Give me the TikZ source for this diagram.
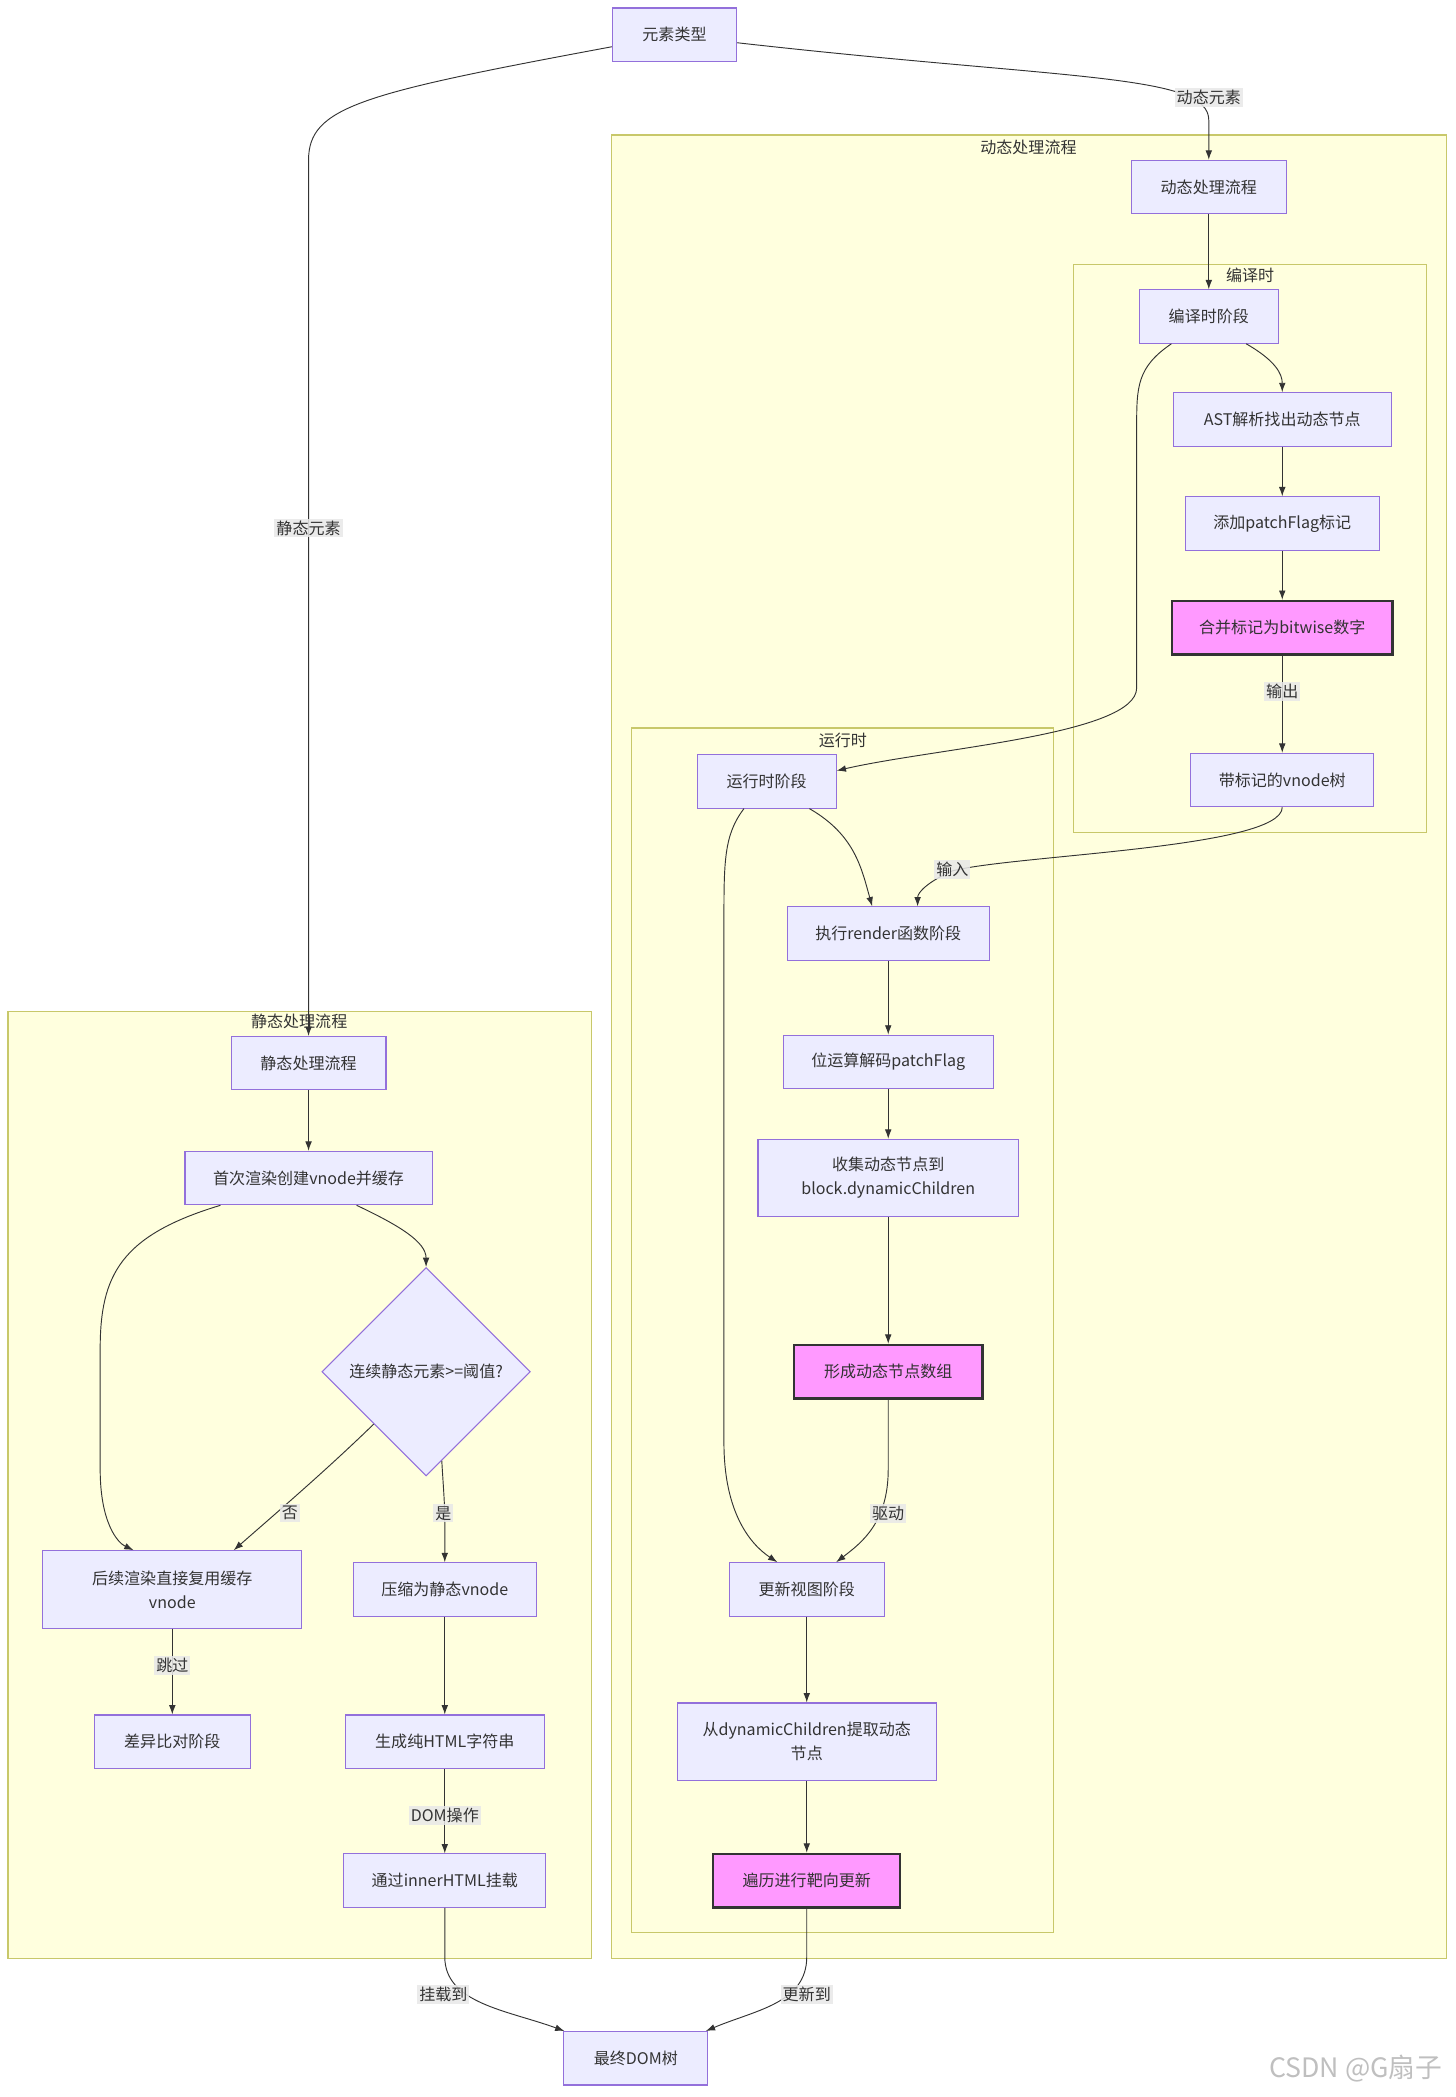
\documentclass[tikz,border=0pt]{standalone}
\usepackage{fontspec}
\setmainfont{Noto Sans CJK SC}
\usetikzlibrary{shapes.geometric,arrows.meta}
\definecolor{boxfill}{HTML}{ECECFF}
\definecolor{boxline}{HTML}{9370DB}
\definecolor{clusterfill}{HTML}{FFFFDE}
\definecolor{clusterline}{HTML}{C8C86A}
\definecolor{hotfill}{HTML}{FF99FF}
\definecolor{edgeline}{HTML}{333333}
\definecolor{lblfill}{HTML}{E8E8E8}
\begin{document}
\begin{tikzpicture}[x=1pt,y=-1pt,
  font=\fontsize{12}{18}\selectfont,text=edgeline,
  box/.style={draw=boxline,fill=boxfill,line width=0.8pt,minimum height=40pt,align=center,inner sep=0pt},
  hot/.style={draw=edgeline,fill=hotfill,line width=1.8pt,minimum height=40pt,inner sep=0pt},
  decide/.style={diamond,draw=boxline,fill=boxfill,line width=0.8pt,minimum size=156pt,inner sep=0pt,aspect=1},
  cluster/.style={draw=clusterline,fill=clusterfill,line width=0.9pt},
  ctitle/.style={inner sep=1pt},
  edge/.style={draw=edgeline,line width=0.7pt,-{Latex[length=7pt,width=5pt]}},
  lbl/.style={fill=lblfill,fill opacity=0.85,text opacity=1,inner sep=1.5pt}]
\useasboundingbox (0,0) rectangle (1090,1570);

% groups
\draw[cluster] (458,101) rectangle (1083,1466);
\node[ctitle] (tdyn) at (770,110) {动态处理流程};
\draw[cluster] (804,198) rectangle (1068,623);
\node[ctitle] (tcomp) at (936,206) {编译时};
\draw[cluster] (473,545) rectangle (789,1447);
\node[ctitle] (trun) at (631,554) {运行时};
\draw[cluster] (6,757) rectangle (443,1466);
\node[ctitle] (tstat) at (224,765) {静态处理流程};

% nodes
\node[box,minimum width=93pt] (etype) at (505,26) {元素类型};
\node[box,minimum width=116pt] (dflow) at (905,140) {动态处理流程};
\node[box,minimum width=104pt] (cstage) at (905,237) {编译时阶段};
\node[box,minimum width=163pt] (ast) at (960,314) {AST解析找出动态节点};
\node[box,minimum width=145pt] (patch) at (960,392) {添加patchFlag标记};
\node[hot,minimum width=165pt] (merge) at (960,470) {合并标记为bitwise数字};
\node[box,minimum width=137pt] (vtree) at (960,584) {带标记的vnode树};
\node[box,minimum width=104pt] (rstage) at (574,585) {运行时阶段};
\node[box,minimum width=151pt] (render) at (665,699) {执行render函数阶段};
\node[box,minimum width=157pt] (decode) at (665,795) {位运算解码patchFlag};
\node[box,minimum width=195pt,minimum height=58pt] (collect) at (665,882) {收集动态节点到\\block.dynamicChildren};
\node[hot,minimum width=141pt] (form) at (665,1027) {形成动态节点数组};
\node[box,minimum width=116pt] (update) at (604,1190) {更新视图阶段};
\node[box,minimum width=194pt,minimum height=58pt] (extract) at (604,1304) {从dynamicChildren提取动态\\节点};
\node[hot,minimum width=140pt] (patchall) at (604,1408) {遍历进行靶向更新};
\node[box,minimum width=116pt] (sflow) at (231,796) {静态处理流程};
\node[box,minimum width=185pt] (first) at (231,882) {首次渲染创建vnode并缓存};
\node[decide] (thresh) at (319,1027) {连续静态元素>=阈值?};
\node[box,minimum width=194pt,minimum height=58pt] (reuse) at (129,1190) {后续渲染直接复用缓存\\vnode};
\node[box,minimum width=137pt] (press) at (333,1190) {压缩为静态vnode};
\node[box,minimum width=117pt] (diff) at (129,1304) {差异比对阶段};
\node[box,minimum width=149pt] (html) at (333,1304) {生成纯HTML字符串};
\node[box,minimum width=151pt] (mount) at (333,1408) {通过innerHTML挂载};
\node[box,minimum width=108pt] (final) at (476,1541) {最终DOM树};

% connectors
\draw[edge] ([yshift=-9pt]etype.west) .. controls (270,70) and (231,80) .. (231,120) -- node[lbl,pos=0.42] (lstatic) {静态元素} (sflow.north);
\draw[edge] ([yshift=-6pt]etype.east) .. controls (800,60) and (905,55) .. (905,90) -- (dflow.north);
\node[lbl] (ldyn) at (905,73) {动态元素};
\draw[edge] (dflow) -- (cstage);
\draw[edge] ([xshift=28pt]cstage.south) .. controls (955,270) and (960,280) .. (ast.north);
\draw[edge] ([xshift=-28pt]cstage.south) .. controls (851,275) and (851,290) .. (851,320) -- (851,515) .. controls (851,550) and (700,560) .. ([yshift=8pt]rstage.east);
\draw[edge] (ast) -- (patch);
\draw[edge] (patch) -- (merge);
\draw[edge] (merge) -- node[lbl,pos=0.37] (lout) {输出} (vtree);
\draw[edge] (vtree.south) .. controls (960,635) and (760,640) .. (713,652) .. controls (695,660) and (687,668) .. ([xshift=22pt]render.north);
\node[lbl] (lin) at (713,651) {输入};
\draw[edge] ([xshift=32pt]rstage.south) .. controls (640,625) and (645,650) .. ([xshift=-12pt]render.north);
\draw[edge] ([xshift=-17pt]rstage.south) .. controls (542,625) and (542,645) .. (542,690) -- (542,1080) .. controls (542,1130) and (560,1155) .. ([xshift=-22pt]update.north);
\draw[edge] (render) -- (decode);
\draw[edge] (decode) -- (collect);
\draw[edge] (collect) -- (form);
\draw[edge] (form.south) -- (665,1100) .. controls (665,1140) and (645,1155) .. ([xshift=22pt]update.north);
\node[lbl] (ldrive) at (665,1133) {驱动};
\draw[edge] (update) -- (extract);
\draw[edge] (extract) -- (patchall);
\draw[edge] (patchall.south) -- (604,1465) .. controls (604,1500) and (565,1505) .. ([xshift=-2pt]final.north east);
\node[lbl] (lupd) at (604,1493) {更新到};

\draw[edge] (sflow) -- (first);
\draw[edge] ([xshift=-66pt]first.south) .. controls (90,925) and (75,955) .. (75,1010) -- (75,1100) .. controls (75,1140) and (88,1155) .. ([xshift=-29pt]reuse.north);
\draw[edge] ([xshift=36pt]first.south) .. controls (300,918) and (319,930) .. (thresh.north);
\draw[edge] (thresh.south west) .. controls (245,1100) and (210,1130) .. ([xshift=46pt]reuse.north);
\node[lbl] (lno) at (217,1133) {否};
\draw[edge] (thresh.-80) .. controls (332,1115) and (333,1125) .. (333,1140) -- (press.north);
\node[lbl] (lyes) at (332,1133) {是};
\draw[edge] (reuse) -- node[lbl,pos=0.43] (lskip) {跳过} (diff);
\draw[edge] (press) -- (html);
\draw[edge] (html) -- node[lbl,pos=0.55] (ldom) {DOM操作} (mount);
\draw[edge] (mount.south) -- (333,1465) .. controls (333,1500) and (380,1505) .. ([xshift=1pt]final.north west);
\node[lbl] (lmnt) at (332,1493) {挂载到};

\node[text=black!25,font=\fontsize{20}{20}\selectfont] (mark) at (1015,1549) {CSDN @G扇子};
\end{tikzpicture}
\end{document}
